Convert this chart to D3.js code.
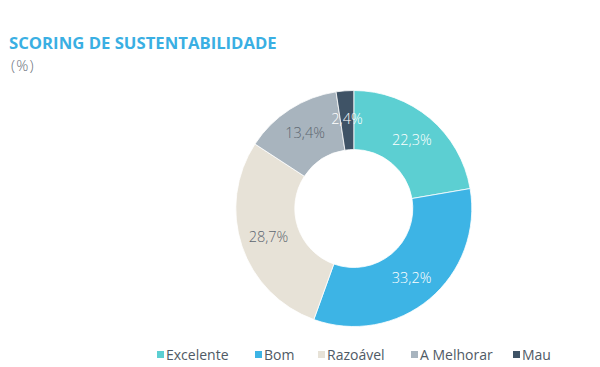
<!DOCTYPE html>
<html><head><meta charset="utf-8">
<script src="https://cdn.jsdelivr.net/npm/d3@7"></script>
<style>body{margin:0;background:#fff;} svg{display:block;font-family:"Open Sans",sans-serif;}</style>
</head><body>
<svg id="c" width="600" height="367"></svg>
<script>
const categories = ["Excelente", "Bom", "Razoável", "A Melhorar", "Mau"];
const values = [22.3, 33.2, 28.7, 13.4, 2.4];
const labels = ["22,3%", "33,2%", "28,7%", "13,4%", "2,4%"];
const colors = ["#5ccfd2", "#3db4e5", "#e7e2d7", "#a8b4be", "#3f5366"];
const labelColors = ["#ffffff", "#ffffff", "#5d6670", "#5d6670", "#ffffff"];

const svg = d3.select("#c");
svg.append("text").attr("x", 9).attr("y", 49).attr("fill", "#3aafe3")
  .attr("font-size", 16.7).attr("font-weight", 700)
  .text("SCORING DE SUSTENTABILIDADE");
svg.append("text").attr("x", 11).attr("y", 71).attr("fill", "#6b737b")
  .attr("font-size", 15).attr("font-weight", 300).attr("letter-spacing", 1.2).text("(%)");

const cx = 353.8, cy = 208.5, R = 118, r = 59;
const pie = d3.pie().sort(null).value(d => d)(values);
const arc = d3.arc().innerRadius(r).outerRadius(R);
const labelArc = d3.arc().innerRadius(90).outerRadius(90);
const g = svg.append("g").attr("transform", `translate(${cx},${cy})`);
g.selectAll("path").data(pie).join("path")
  .attr("d", arc).attr("fill", (d, i) => colors[i])
  .attr("stroke", "#fff").attr("stroke-width", 0.8);
g.selectAll("text").data(pie).join("text")
  .attr("transform", d => `translate(${labelArc.centroid(d)})`)
  .attr("text-anchor", "middle").attr("dy", "0.35em")
  .attr("font-size", 14.5).attr("font-weight", 300).attr("fill", (d, i) => labelColors[i])
  .text((d, i) => labels[i]);

const legendX = [157, 255, 318, 411, 513];
const lg = svg.append("g");
categories.forEach((c, i) => {
  lg.append("rect").attr("x", legendX[i]).attr("y", 351).attr("width", 7).attr("height", 7).attr("fill", colors[i]);
  lg.append("text").attr("x", legendX[i] + 9).attr("y", 359.5).attr("font-size", 14)
    .attr("fill", "#4f5a65").text(c);
});
</script>
</body></html>
